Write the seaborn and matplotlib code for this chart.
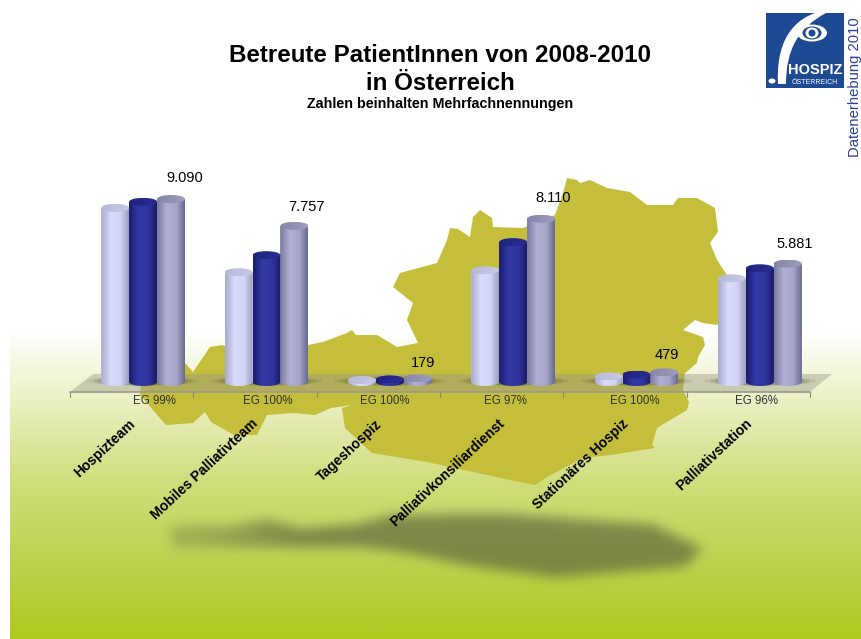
import numpy as np
import pandas as pd
import matplotlib
matplotlib.use('Agg')
import matplotlib.pyplot as plt
import seaborn as sns
from matplotlib.colors import LinearSegmentedColormap
from matplotlib.patches import Polygon, Ellipse, PathPatch, Rectangle
from matplotlib.path import Path
from matplotlib.transforms import ScaledTranslation

# chart values
categories = ['Hospizteam', 'Mobiles Palliativteam', 'Tageshospiz',
              'Palliativkonsiliardienst', 'Stationäres Hospiz', 'Palliativstation']
years = ['2008', '2009', '2010']
values_2008 = [8650, 5450, 100, 5550, 280, 5150]
values_2009 = [8950, 6300, 130, 6950, 370, 5650]
values_2010 = [9090, 7757, 179, 8110, 479, 5881]
value_labels = ['9.090', '7.757', '179', '8.110', '479', '5.881']
eg_labels = ['EG 99%', 'EG 100%', 'EG 100%', 'EG 97%', 'EG 100%', 'EG 96%']

# map outline and its shadow, in picture pixels (decoration only)
map_outline = [(141, 385), (185, 363), (193, 372), (210, 347), (222, 345), (240, 352), (308, 345),
               (323, 342), (347, 333), (352, 330), (356, 335), (377, 335), (397, 347), (418, 343),
               (407, 320), (413, 303), (393, 287), (400, 273), (437, 263), (447, 240), (450, 228),
               (458, 229), (470, 237), (473, 217), (480, 210), (492, 218), (493, 227), (523, 228),
               (555, 215), (563, 193), (567, 178), (577, 180), (580, 183), (590, 180), (607, 188),
               (630, 192), (647, 205), (673, 205), (678, 198), (697, 198), (715, 208), (718, 232),
               (710, 243), (717, 260), (727, 275), (735, 300), (717, 325), (703, 323), (695, 320),
               (683, 330), (703, 337), (705, 345), (698, 357), (697, 363), (685, 373), (683, 390),
               (689, 402), (687, 410), (657, 428), (652, 445), (655, 448), (611, 455), (583, 458),
               (547, 477), (535, 485), (510, 480), (473, 472), (427, 462), (372, 453), (345, 428),
               (342, 408), (352, 405), (331, 408), (315, 415), (294, 413), (267, 415), (257, 435),
               (234, 435), (211, 422), (205, 412), (193, 423), (166, 425), (159, 417), (140, 395)]
shadow_outline = [(168, 527), (198, 523), (225, 526), (267, 519), (299, 528), (354, 524), (390, 515),
                  (496, 513), (652, 524), (702, 548), (684, 566), (556, 577), (473, 566), (405, 552),
                  (354, 546), (299, 546), (244, 546), (175, 548)]

FIG_W, FIG_H = 862, 639
BASE_Y = 382
PX_PER_UNIT = 183 / 9090

sns.set_theme(style='white')
plt.rcParams['font.family'] = ['Liberation Sans', 'DejaVu Sans']

df = pd.DataFrame({
    'Kategorie': categories * 3,
    'Jahr': np.repeat(years, len(categories)),
    'Wert': values_2008 + values_2009 + values_2010,
})

fig = plt.figure(figsize=(FIG_W / 100, FIG_H / 100), dpi=100, facecolor='white')

# background layer in pixel coordinates
bg = fig.add_axes([0, 0, 1, 1], zorder=0)
grad = LinearSegmentedColormap.from_list('bg', [(0, '#ffffff'), (0.23, '#ebf0c3'), (0.485, '#d0de7d'),
                                                (0.745, '#bed250'), (1, '#afc81e')])
bg.imshow(np.linspace(0, 1, 256).reshape(-1, 1), cmap=grad, aspect='auto',
          extent=(10, FIG_W, FIG_H, 330), zorder=0)
bg.add_patch(Polygon(map_outline, closed=True, fc='#c5be3a', ec='none', zorder=1))

# blurred ground shadow
yy, xx = np.mgrid[490:610, 130:740]
mask = Path(shadow_outline).contains_points(np.c_[xx.ravel(), yy.ravel()]).reshape(xx.shape).astype(float)
kernel = np.ones(11) / 11
for _ in range(3):
    mask = np.apply_along_axis(lambda r: np.convolve(r, kernel, mode='same'), 0, mask)
    mask = np.apply_along_axis(lambda r: np.convolve(r, kernel, mode='same'), 1, mask)
rgba = np.zeros(mask.shape + (4,))
rgba[..., :3] = np.array([85, 90, 60]) / 255
rgba[..., 3] = mask * np.clip((xx - 100) / 320, 0.3, 0.62)
bg.imshow(rgba, aspect='auto', extent=(130, 740, 610, 490), zorder=2)

# floor and axis line
bg.add_patch(Polygon([(70, 392), (810, 392), (832, 374), (93, 374)], closed=True,
                     fc=(150 / 255, 150 / 255, 135 / 255, 0.42), ec='none', zorder=3))
bg.plot([70, 810], [392, 392], color='#9a9a90', lw=1.2, zorder=4)
tick_xs = np.linspace(70, 810, len(categories) + 1)
for tx in tick_xs:
    bg.plot([tx, tx], [392, 397], color='#8a8a80', lw=0.8, zorder=4)

# soft dark patch under each group of bars
centers_px = 143 + 123.4 * np.arange(len(categories))
for cx in centers_px:
    for w, a in [(112, 0.12), (100, 0.15), (90, 0.2)]:
        bg.add_patch(Ellipse((cx, 381), w, 9, fc='#55553a', ec='none', alpha=a, zorder=4))

# EG labels
eg_xs = [154, 268, 385, 505, 635, 757]
for x, label in zip(eg_xs, eg_labels):
    bg.text(x, 401, label, ha='center', va='center', fontsize=8.3, color='#303030', zorder=5)

# logo
bg.add_patch(Rectangle((766, 13), 78, 75, fc='#1d4a92', ec='none', zorder=5))
swoosh = Path([(778, 84), (776, 45), (790, 22), (815, 13), (826, 13), (798, 28), (786, 50), (786, 84), (778, 84)],
              [Path.MOVETO, Path.CURVE4, Path.CURVE4, Path.CURVE4, Path.LINETO,
               Path.CURVE4, Path.CURVE4, Path.CURVE4, Path.CLOSEPOLY])
bg.add_patch(PathPatch(swoosh, fc='white', ec='none', zorder=6))
bg.add_patch(Ellipse((812, 33), 30, 17, fc='white', ec='none', zorder=6))
bg.add_patch(Ellipse((812, 33), 19, 13, fc='#1d4a92', ec='none', zorder=7))
bg.add_patch(Ellipse((812, 33), 13, 11, fc='white', ec='none', zorder=8))
bg.add_patch(Ellipse((812, 33), 7, 7, fc='#1d4a92', ec='none', zorder=9))
bg.add_patch(Ellipse((772, 81), 7, 5, fc='white', ec='none', zorder=6))
bg.text(815, 70, 'HOSPIZ', ha='center', va='center', fontsize=10.5, fontweight='bold', color='white', zorder=7)
bg.text(815, 82, 'ÖSTERREICH', ha='center', va='center', fontsize=5, color='white', zorder=7)
bg.text(855, 87, 'Datenerhebung 2010', rotation=90, ha='center', va='center', fontsize=10.6, color='#2a3f96', zorder=7)

bg.set_xlim(0, FIG_W)
bg.set_ylim(FIG_H, 0)
bg.axis('off')

# titles
bg.text(440, 56, 'Betreute PatientInnen von 2008-2010', ha='center', va='center',
        fontsize=17.4, fontweight='bold', color='black', zorder=7)
bg.text(440, 83, 'in Österreich', ha='center', va='center', fontsize=17.4, fontweight='bold',
        color='black', zorder=7)
bg.text(440, 104, 'Zahlen beinhalten Mehrfachnennungen', ha='center', va='center', fontsize=10.3,
        fontweight='bold', color='black', zorder=7)

# bars on top of it, transparent axes with the real value scale
ax = fig.add_axes([81.5 / FIG_W, (FIG_H - BASE_Y) / FIG_H, 740 / FIG_W, BASE_Y / FIG_H], zorder=1)
ax.patch.set_alpha(0)
sns.barplot(data=df, x='Kategorie', y='Wert', hue='Jahr', palette=['#d2d4f5', '#30349f', '#a5a5c8'],
            width=0.68, gap=0, legend=False, ax=ax, saturation=1, linewidth=0, edgecolor='none')
ax.set_xlim(-0.5, len(categories) - 0.5)
ymax = BASE_Y / PX_PER_UNIT
ax.set_ylim(0, ymax)

side_colors = [['#a9abcd', '#d9dbfb', '#d2d4f5', '#9e9ebc'],
               ['#191c6e', '#3338a8', '#30349f', '#191c64'],
               ['#7a7aa2', '#b0b0d2', '#a5a5c8', '#696991']]
top_colors = [['#b8bad9', '#c6c8e4'], ['#1f2380', '#2a2e92'], ['#8585a8', '#9c9cbc']]
rim = 4 / PX_PER_UNIT
t = np.linspace(0, np.pi, 40)

for container, sides, tops in zip(ax.containers, side_colors, top_colors):
    side_map = LinearSegmentedColormap.from_list('side', list(zip([0, 0.35, 0.7, 1], sides)))
    top_map = LinearSegmentedColormap.from_list('top', tops)
    for bar in container:
        x0, w, h = bar.get_x(), bar.get_width(), bar.get_height()
        xc = x0 + w / 2
        # cylinder silhouette with a rounded foot
        foot = np.c_[xc - w / 2 * np.cos(t), -rim * np.sin(t)]
        head = np.array([[x0 + w, h], [x0, h]])
        im = ax.imshow(np.linspace(0, 1, 64).reshape(1, -1), cmap=side_map, aspect='auto',
                       extent=(x0, x0 + w, -rim, h), zorder=3)
        clip = Polygon(np.r_[foot, head], closed=True, transform=ax.transData)
        im.set_clip_path(clip)
        im.set_clip_box(fig.bbox)  # the foot hangs below the axes
        # lighter lid on top
        lid = Ellipse((xc, h), w, 2 * rim, transform=ax.transData)
        im2 = ax.imshow(np.linspace(0, 1, 16).reshape(1, -1), cmap=top_map, aspect='auto',
                        extent=(x0, x0 + w, h - rim, h + rim), zorder=4)
        im2.set_clip_path(lid)
        im2.set_clip_box(fig.bbox)

# value labels next to the 2010 bars
label_offsets = [(14, 21), (12, 19), (5, 15), (12, 21), (2, 17), (7, 20)]
for bar, label, (dx, dy) in zip(ax.containers[2], value_labels, label_offsets):
    ax.annotate(label, (bar.get_x() + bar.get_width() / 2, bar.get_height()), xytext=(dx, dy),
                textcoords='offset pixels', ha='center', va='center', fontsize=10.5, color='black', zorder=6)

ax.set_xlim(-0.5, len(categories) - 0.5)
ax.set_ylim(0, ymax)
ax.set_xlabel('')
ax.set_ylabel('')
ax.set_yticks([])
sns.despine(ax=ax, left=True, bottom=True)
ax.set_xticks(range(len(categories)))
ax.set_xticklabels(categories, rotation=43, ha='right', va='top', rotation_mode='anchor',
                   fontsize=10, fontweight='bold', color='black')
ax.tick_params(axis='x', length=0, pad=25)
shift = ScaledTranslation(-15 / 100, 0, fig.dpi_scale_trans)
for lab in ax.get_xticklabels():
    lab.set_transform(lab.get_transform() + shift)

fig.savefig('out.png', dpi=100)
